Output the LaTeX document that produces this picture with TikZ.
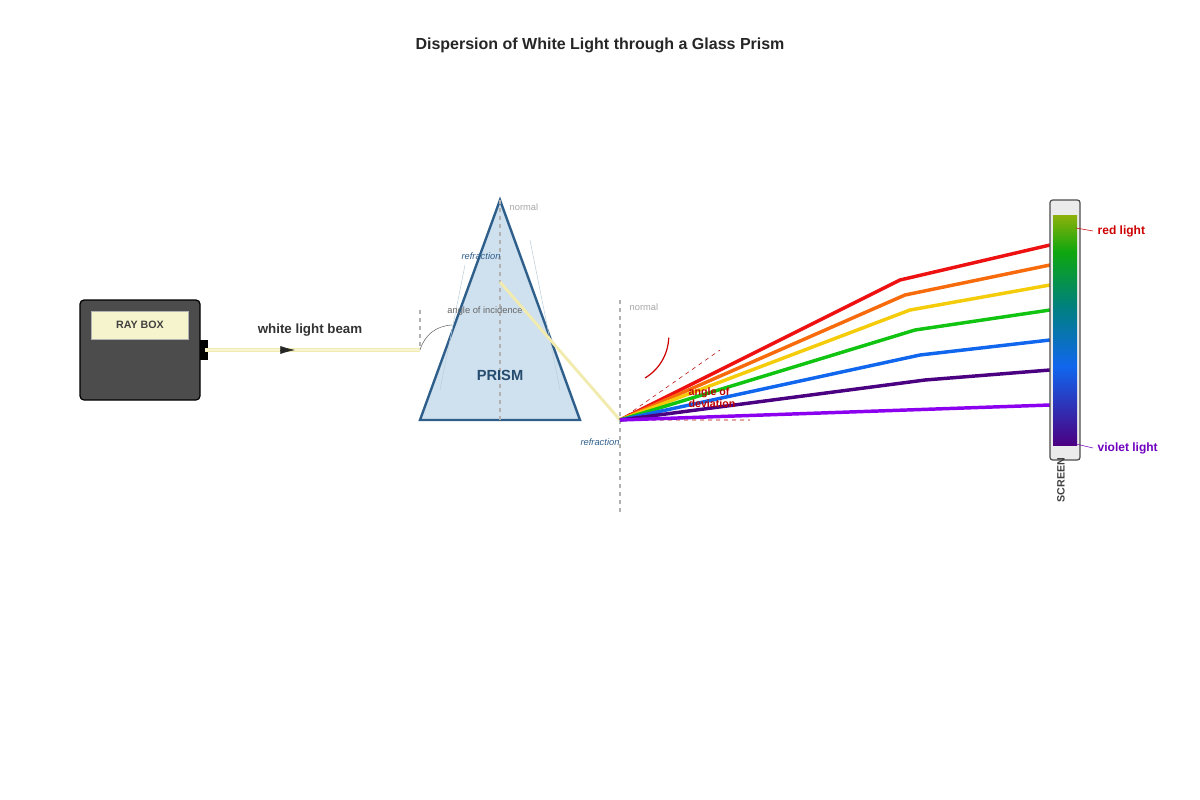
\documentclass[tikz,border=0pt]{standalone}
\usepackage{fontspec}
\setmainfont{Liberation Sans}
\usetikzlibrary{positioning,arrows.meta,calc}
\definecolor{prismfill}{HTML}{CFE0EE}
\definecolor{prismedge}{HTML}{2E5E8A}
\definecolor{beam}{HTML}{F2EBB0}
\definecolor{cred}{HTML}{EE1111}
\definecolor{corange}{HTML}{F76B0C}
\definecolor{cyellow}{HTML}{F5CC0A}
\definecolor{cgreen}{HTML}{11C411}
\definecolor{cblue}{HTML}{1166EE}
\definecolor{cindigo}{HTML}{4B0082}
\definecolor{cviolet}{HTML}{8B00EE}
\pgfdeclareverticalshading{spectrum}{100bp}{
  color(0bp)=(cviolet); color(10bp)=(cviolet!80!black); color(25bp)=(cindigo);
  color(42bp)=(cblue); color(55bp)=(teal); color(67bp)=(cgreen!85!black);
  color(80bp)=(cyellow!90!black); color(90bp)=(corange); color(100bp)=(cred)}
\begin{document}
\begin{tikzpicture}[x=0.75pt,y=-0.75pt]
\tikzset{ray/.style={line width=2.6pt},
  normal/.style={gray!60,dashed,line width=0.9pt},
  small/.style={font=\fontsize{7}{8}\selectfont}}
\useasboundingbox (0,0) rectangle (1200,800);
\node[font=\bfseries\fontsize{12}{14}\selectfont,text=black!85] (title) at (600,45) {Dispersion of White Light through a Glass Prism};
% ray box
\draw[fill=black!70,rounded corners=3pt,line width=0.9pt] (80,300) rectangle (200,400);
\node[fill=yellow!10!white!92!olive,draw=black!30,minimum width=73pt,minimum height=21pt,inner sep=0,font=\bfseries\fontsize{8}{9}\selectfont,text=black!75] (label) at (140,325) {RAY BOX};
\fill (200,340) rectangle (208,360);
\coordinate (out) at (205,350);
\coordinate (in) at (420,350);
\draw[beam,double=beam!50!white,double distance=2pt,line width=0.8pt] (out) -- (in);
\draw[-{Latex[length=11pt,width=6pt]},black!85] (280,350) -- (295,350);
\node[font=\bfseries\fontsize{10}{12}\selectfont,text=black!80] (wlb) at (310,330) {white light beam};
% prism
\draw[fill=prismfill,draw=prismedge,line width=1.8pt,line join=miter] (500,200) coordinate (apex) -- (420,420) -- (580,420) -- cycle;
\draw[prismedge!30] (465,265) -- (440,390) (530,240) -- (560,390);
\draw[normal] (apex) -- (500,420);
\node[font=\bfseries\fontsize{11}{13}\selectfont,text=prismedge!80!black] (prism) at (500,375) {PRISM};
\node[small,text=gray!70,anchor=west] (n1) at (505,207) {normal};
\node[small,text=prismedge,font=\itshape\fontsize{7}{8}\selectfont] (r1) at (481,256) {refraction};
\node[small,text=black!60] (aoi) at (485,311) {angle of incidence};
\draw[normal] (420,310) -- (in);
\draw[black!60] (in) to[bend left=35] (452,325);
\coordinate (inner) at (500,282);
\coordinate (exit) at (620,420);
\draw[beam,line width=2.2pt] (inner) -- (exit);
% exit side
\draw[normal] (620,300) -- (620,515);
\node[small,text=gray!70,anchor=west] (n2) at (625,307) {normal};
\node[small,text=prismedge,font=\itshape\fontsize{7}{8}\selectfont] (r2) at (600,442) {refraction};
\draw[red!70!black,dashed] (exit) -- (720,350) (exit) -- (750,420);
\draw[red!80!black,line width=0.9pt] (645,378) arc[start angle=59,end angle=2,radius=49];
% spectrum rays
\foreach \c/\k/\e in {cred/900:280/1050:245,corange/905:295/1050:265,cyellow/910:310/1050:285,cgreen/915:330/1050:310,cblue/920:355/1050:340,cindigo/925:380/1050:370,cviolet/840:412/1050:405}{
  \def\pk{\k}\def\pe{\e}
  \pgfmathsetmacro\kx{0}
}
\draw[ray,cred] (exit) -- (900,280) -- (1050,245);
\draw[ray,corange] (exit) -- (905,295) -- (1050,265);
\draw[ray,cyellow] (exit) -- (910,310) -- (1050,285);
\draw[ray,cgreen] (exit) -- (915,330) -- (1050,310);
\draw[ray,cblue] (exit) -- (920,355) -- (1050,340);
\draw[ray,cindigo] (exit) -- (925,380) -- (1050,370);
\draw[ray,cviolet] (exit) -- (1050,405);
\node[font=\bfseries\fontsize{8}{9}\selectfont,text=red!75!black,align=left,fill=none] (aod) at (712,398) {angle of\\deviation};
% screen
\draw[fill=black!8,draw=black!70,rounded corners=2pt,line width=0.9pt] (1050,200) rectangle (1080,460);
\shade[shading=spectrum] (1053,215) rectangle (1077,445);
\node[rotate=90,font=\bfseries\fontsize{8}{9}\selectfont,text=black!75] (scr) at (1061,480) {SCREEN};
\node[anchor=west,font=\bfseries\fontsize{9}{10}\selectfont,text=red!80!black] (red) at (1093,231) {red light};
\node[anchor=west,font=\bfseries\fontsize{9}{10}\selectfont,text=cviolet!80!black] (vio) at (1093,448) {violet light};
\draw[red!80!black] (1076,228) -- (red.west);
\draw[cviolet!80!black] (1076,444) -- (vio.west);
\end{tikzpicture}
\end{document}
